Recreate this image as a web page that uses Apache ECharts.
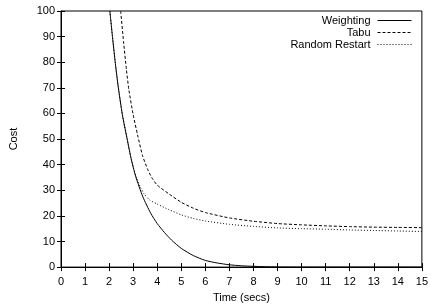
<!DOCTYPE html>
<html>
<head>
<meta charset="utf-8">
<script src="https://cdn.jsdelivr.net/npm/echarts@6/dist/echarts.min.js"></script>
<style>
html, body { margin: 0; padding: 0; background: #fff; }
#container { width: 431px; height: 308px; }
</style>
</head>
<body>
<div id="container"></div>
<script>
// values: [time, cost]
var weighting = [
    [2.03, 100], [2.15, 89], [2.26, 79.5], [2.37, 71], [2.55, 59.5], [2.75, 50],
    [2.9, 43], [3.1, 35.5], [3.4, 27.5], [3.73, 21], [4, 17], [4.3, 13.5],
    [4.6, 10.5], [5, 7.3], [5.5, 4.5], [6, 2.6], [6.5, 1.6], [7, 0.9], [7.5, 0.5],
    [8, 0.3], [8.5, 0.15], [9, 0.05], [10, 0], [15, 0]
];
var tabu = [
    [2.48, 100], [2.6, 88], [2.72, 77], [2.82, 69.3], [3.0, 59.5], [3.18, 51.7],
    [3.39, 43.5], [3.6, 38.2], [3.77, 35.0], [4, 32.0], [4.5, 28.5], [5, 25.3],
    [5.5, 23], [6, 21.3], [7, 19.2], [8, 17.9], [9, 17.0], [10, 16.5], [11, 16.1],
    [12, 15.8], [13, 15.6], [14, 15.5], [15, 15.4]
];
var randomRestart = [
    [2.03, 100], [2.15, 89], [2.26, 79.5], [2.37, 71], [2.55, 59.5], [2.75, 50],
    [2.9, 43], [3.0, 39], [3.15, 34.8], [3.3, 31.2], [3.46, 28.5], [3.7, 26.1],
    [4, 24.6], [4.5, 22.4], [5, 20.4], [5.5, 19.0], [6, 18.0], [7, 16.7], [8, 15.9],
    [9, 15.3], [10, 15.0], [11, 14.8], [12, 14.5], [13, 14.3], [14, 14.1], [15, 13.9]
];
var seriesNames = ['Weighting', 'Tabu', 'Random Restart'];
var xTicks = { min: 0, max: 15, step: 1 };
var yTicks = { min: 0, max: 100, step: 10 };

var font = 'Liberation Sans';
var dom = document.getElementById("container");
var myChart = echarts.init(dom);

function legendRow(name, top) {
    return {
        data: [name],
        right: 19,
        top: top,
        padding: 0,
        align: 'right',
        itemWidth: 34,
        itemHeight: 10,
        itemGap: 0,
        selectedMode: false,
        itemStyle: { opacity: 0 },
        lineStyle: { width: 1 },
        textStyle: { fontFamily: font, fontSize: 11, color: '#000', padding: [0, 2, 0, 0] }
    };
}

var tickLine = { show: true, inside: true, length: 4, lineStyle: { color: '#000' } };

var option = {
    animation: false,
    grid: {
        left: 60, right: 4, top: 11, bottom: 40,
        show: true, borderColor: '#000', borderWidth: 1, backgroundColor: 'transparent'
    },
    legend: [
        legendRow(seriesNames[0], 15),
        legendRow(seriesNames[1], 27),
        legendRow(seriesNames[2], 39)
    ],
    xAxis: [{
        type: 'value',
        min: xTicks.min, max: xTicks.max, interval: xTicks.step,
        name: 'Time (secs)',
        nameLocation: 'middle',
        nameGap: 24,
        nameTextStyle: { fontFamily: font, fontSize: 11, color: '#000' },
        axisLine: { show: true, lineStyle: { color: '#000' } },
        axisTick: tickLine,
        axisLabel: { fontFamily: font, fontSize: 11, color: '#000', margin: 9 },
        splitLine: { show: false }
    }, {
        type: 'value', position: 'top',
        min: xTicks.min, max: xTicks.max, interval: xTicks.step,
        axisLine: { show: false },
        axisTick: tickLine,
        axisLabel: { show: false },
        splitLine: { show: false }
    }],
    yAxis: [{
        type: 'value',
        min: yTicks.min, max: yTicks.max, interval: yTicks.step,
        name: 'Cost',
        nameLocation: 'middle',
        nameGap: 42,
        nameTextStyle: { fontFamily: font, fontSize: 11, color: '#000' },
        axisLine: { show: true, lineStyle: { color: '#000' } },
        axisTick: tickLine,
        axisLabel: { fontFamily: font, fontSize: 11, color: '#000', margin: 6 },
        splitLine: { show: false }
    }, {
        type: 'value', position: 'right',
        min: yTicks.min, max: yTicks.max, interval: yTicks.step,
        axisLine: { show: false },
        axisTick: tickLine,
        axisLabel: { show: false },
        splitLine: { show: false }
    }],
    series: [{
        name: seriesNames[0],
        type: 'line',
        data: weighting,
        smooth: 0.2,
        symbol: 'none',
        lineStyle: { color: '#000', width: 1, type: 'solid' },
        itemStyle: { color: '#000' }
    }, {
        name: seriesNames[1],
        type: 'line',
        data: tabu,
        smooth: 0.2,
        symbol: 'none',
        lineStyle: { color: '#000', width: 1, type: [3, 2] },
        itemStyle: { color: '#000' }
    }, {
        name: seriesNames[2],
        type: 'line',
        data: randomRestart,
        smooth: 0.2,
        symbol: 'none',
        lineStyle: { color: '#000', width: 1, type: [1, 2] },
        itemStyle: { color: '#000' }
    }]
};
myChart.setOption(option);
</script>
</body>
</html>
